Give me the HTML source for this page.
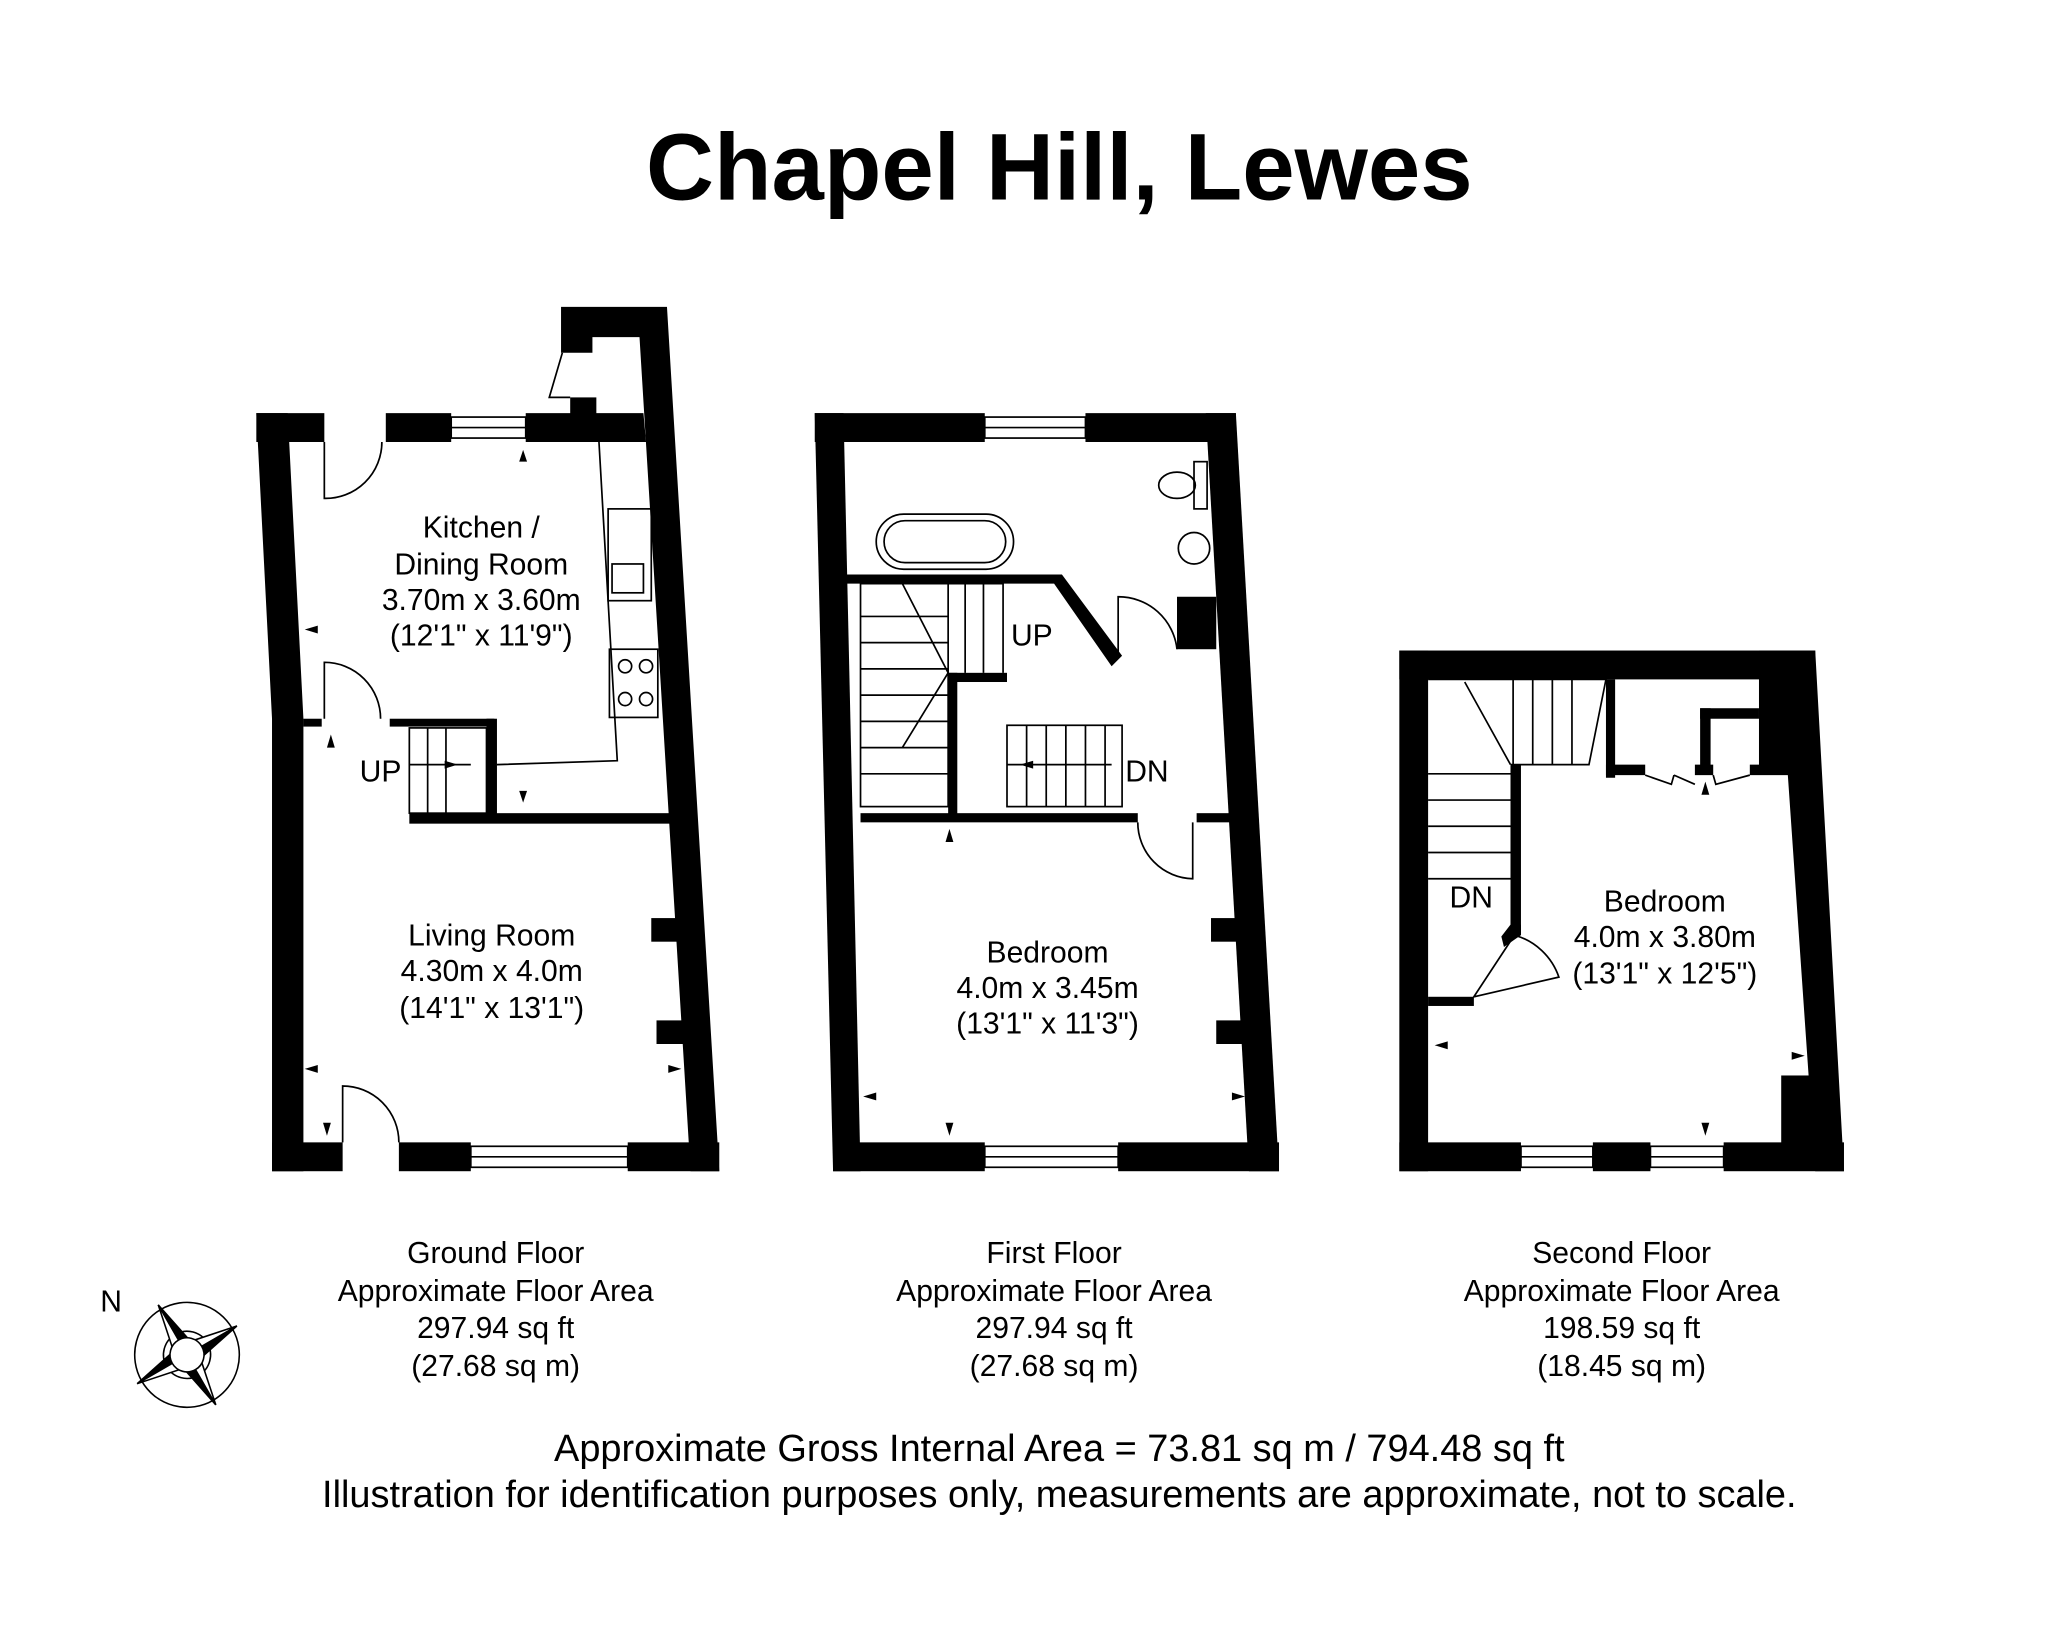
<!DOCTYPE html>
<html><head><meta charset="utf-8"><style>
html,body{margin:0;padding:0;background:#fff}
svg{display:block}
text{font-family:"Liberation Sans",Arial,sans-serif;fill:#000}
</style></head><body>
<svg width="2048" height="1646" viewBox="0 0 1566 1255" preserveAspectRatio="none" xmlns="http://www.w3.org/2000/svg">
<rect width="1600" height="1300" fill="#fff"/>
<text x="810" y="152" font-size="72" font-weight="bold" text-anchor="middle">Chapel Hill, Lewes</text>

<g fill="#000" stroke="none">
<polygon points="196,315 220,315 232,548 232,893 208,893 208,548"/>
<rect x="196" y="315" width="52" height="22"/>
<rect x="295" y="315" width="50" height="22"/>
<rect x="402" y="315" width="53" height="22"/>
<polygon points="429,234 510,234 550,893 528,893 489,257 453,257 453,269 429,269"/>
<rect x="436" y="303" width="20" height="34"/>
<polygon points="455,315 492,315 494,337 455,337"/>
<rect x="208" y="871" width="54" height="22"/>
<rect x="305" y="871" width="55" height="22"/>
<rect x="480" y="871" width="70" height="22"/>
<rect x="313" y="620" width="202" height="8"/>
<rect x="372" y="548" width="8" height="76"/>
<rect x="298" y="548" width="80" height="6"/>
<rect x="232" y="548" width="14" height="6"/>
<rect x="498" y="700" width="22" height="18"/>
<rect x="502" y="778" width="22" height="18"/>
<polygon points="623,315 645,315 658,893 637,893"/>
<rect x="623" y="315" width="130" height="22"/>
<rect x="830" y="315" width="115" height="22"/>
<polygon points="922,315 945,315 978,893 955,893"/>
<rect x="637" y="871" width="116" height="22"/>
<rect x="855" y="871" width="123" height="22"/>
<polygon points="645,438 812,438 858,500 850,508 806,445 645,445"/>
<rect x="658" y="620" width="212" height="7"/>
<rect x="915" y="620" width="28" height="7"/>
<rect x="725" y="513" width="7" height="110"/>
<rect x="725" y="513" width="45" height="7"/>
<rect x="900" y="455" width="30" height="40"/>
<rect x="926" y="700" width="20" height="18"/>
<rect x="930" y="778" width="22" height="18"/>
<rect x="1070" y="496" width="318" height="22"/>
<rect x="1070" y="496" width="22" height="397"/>
<polygon points="1345,496 1388,496 1410,893 1388,893 1367,590 1345,590"/>
<rect x="1070" y="871" width="93" height="22"/>
<rect x="1218" y="871" width="44" height="22"/>
<rect x="1318" y="871" width="92" height="22"/>
<rect x="1362" y="820" width="30" height="55"/>
<rect x="1228" y="518" width="7" height="75"/>
<rect x="1300" y="540" width="45" height="8"/>
<rect x="1300" y="540" width="8" height="50"/>
<rect x="1155" y="583" width="8" height="130"/>
<polygon points="1155,705 1163,705 1163,713 1150,722 1148,714"/>
<rect x="1092" y="760" width="35" height="7"/>
<rect x="1228" y="583" width="30" height="8"/>
<rect x="1296" y="583" width="14" height="8"/>
<rect x="1338" y="583" width="30" height="8"/>
</g>

<g fill="none" stroke="#000" stroke-width="1.3">
<polyline points="430,269 420,303 436,303"/>
<rect x="345" y="318" width="57" height="16"/><line x1="345" y1="326" x2="402" y2="326"/>
<rect x="360" y="874" width="120" height="16"/><line x1="360" y1="882" x2="480" y2="882"/>
<rect x="753" y="318" width="77" height="16"/><line x1="753" y1="326" x2="830" y2="326"/>
<rect x="753" y="874" width="102" height="16"/><line x1="753" y1="882" x2="855" y2="882"/>
<rect x="1163" y="874" width="55" height="16"/><line x1="1163" y1="882" x2="1218" y2="882"/>
<rect x="1262" y="874" width="56" height="16"/><line x1="1262" y1="882" x2="1318" y2="882"/>
<path d="M248,337 L248,380 A43,43 0 0 0 292,337"/>
<path d="M248,548 L248,505 A43,43 0 0 1 291,548"/>
<path d="M262,871 L262,828 A43,43 0 0 1 305,871"/>
<path d="M912,627 L912,670 A43,43 0 0 1 870,627"/>
<path d="M855,500 L855,455 A45,45 0 0 1 900,495"/>
<path d="M1127,760 L1158,713 A50,50 0 0 1 1192,745 Z"/>
<path d="M1258,591 L1278,598 L1280,591 M1280,591 L1296,598 M1310,591 L1312,598 L1338,591"/>
<polyline points="458,337 472,580 380,583"/>
<rect x="465" y="388" width="33" height="70"/>
<rect x="468" y="430" width="24" height="22"/>
<rect x="466" y="495" width="37" height="52"/>
<circle cx="478" cy="508" r="5"/><circle cx="494" cy="508" r="5"/>
<circle cx="478" cy="533" r="5"/><circle cx="494" cy="533" r="5"/>
<rect x="313" y="555" width="59" height="65"/>
<line x1="327" y1="555" x2="327" y2="620"/><line x1="341" y1="555" x2="341" y2="620"/>
<line x1="313" y1="583" x2="360" y2="583"/>
<rect x="658" y="445" width="67" height="170"/>
<path d="M725,445 L767,445 L767,513 M738,445 L738,513 M752,445 L752,513 M658,470 L725,470 M658,490 L725,490 M658,510 L725,510 M658,530 L725,530 M658,550 L725,550 M658,570 L725,570 M658,590 L725,590 M690,445 L725,513 L690,570"/>
<rect x="770" y="553" width="88" height="62"/>
<path d="M785,553 L785,615 M800,553 L800,615 M815,553 L815,615 M830,553 L830,615 M845,553 L845,615 M770,583 L850,583"/>
<path d="M1092,518 L1228,518 L1215,583 L1155,583 M1157,518 L1157,583 M1172,518 L1172,583 M1187,518 L1187,583 M1202,518 L1202,583 M1092,590 L1155,590 M1092,610 L1155,610 M1092,630 L1155,630 M1092,650 L1155,650 M1092,670 L1155,670 M1120,520 L1155,583"/>
<rect x="670" y="392" width="105" height="42" rx="21"/>
<rect x="676" y="397" width="93" height="32" rx="16"/>
<ellipse cx="900" cy="370" rx="14" ry="10"/><rect x="913" y="352" width="10" height="36"/>
<ellipse cx="913" cy="418" rx="12" ry="12"/>
</g>

<g fill="#000">
<polygon points="400,343 397,352 403,352"/><polygon points="400,612 397,603 403,603"/>
<polygon points="233,480 243,477 243,483"/><polygon points="233,815 243,812 243,818"/>
<polygon points="253,560 250,570 256,570"/><polygon points="250,866 247,856 253,856"/>
<polygon points="521,815 511,812 511,818"/><polygon points="350,583 340,580 340,586"/>
<polygon points="726,866 723,856 729,856"/><polygon points="726,632 723,642 729,642"/>
<polygon points="660,836 670,833 670,839"/><polygon points="952,836 942,833 942,839"/>
<polygon points="780,583 790,580 790,586"/>
<polygon points="1097,797 1107,794 1107,800"/><polygon points="1380,805 1370,802 1370,808"/>
<polygon points="1304,866 1301,856 1307,856"/><polygon points="1304,596 1301,606 1307,606"/>
</g>

<g font-size="23" text-anchor="middle">
<text x="368" y="410">Kitchen /</text>
<text x="368" y="438">Dining Room</text>
<text x="368" y="465">3.70m x 3.60m</text>
<text x="368" y="492">(12'1" x 11'9")</text>
<text x="291" y="596">UP</text>
<text x="376" y="721">Living Room</text>
<text x="376" y="748">4.30m x 4.0m</text>
<text x="376" y="776">(14'1" x 13'1")</text>
<text x="789" y="492">UP</text>
<text x="877" y="596">DN</text>
<text x="801" y="734">Bedroom</text>
<text x="801" y="761">4.0m x 3.45m</text>
<text x="801" y="788">(13'1" x 11'3")</text>
<text x="1125" y="692">DN</text>
<text x="1273" y="695">Bedroom</text>
<text x="1273" y="722">4.0m x 3.80m</text>
<text x="1273" y="750">(13'1" x 12'5")</text>
<text x="379" y="963">Ground Floor</text>
<text x="379" y="992">Approximate Floor Area</text>
<text x="379" y="1020">297.94 sq ft</text>
<text x="379" y="1049">(27.68 sq m)</text>
<text x="806" y="963">First Floor</text>
<text x="806" y="992">Approximate Floor Area</text>
<text x="806" y="1020">297.94 sq ft</text>
<text x="806" y="1049">(27.68 sq m)</text>
<text x="1240" y="963">Second Floor</text>
<text x="1240" y="992">Approximate Floor Area</text>
<text x="1240" y="1020">198.59 sq ft</text>
<text x="1240" y="1049">(18.45 sq m)</text>
<text x="810" y="1114" font-size="29">Approximate Gross Internal Area = 73.81 sq m / 794.48 sq ft</text>
<text x="810" y="1149" font-size="29">Illustration for identification purposes only, measurements are approximate, not to scale.</text>
<text x="85" y="1000">N</text>
</g>

<g transform="translate(143,1033) rotate(-30)" stroke="#000" stroke-width="1.2">
<circle r="40" fill="none"/><circle r="18" fill="#fff"/>
<polygon points="0,-44 7,-10 0,0" fill="#000"/><polygon points="0,-44 -7,-10 0,0" fill="#fff"/>
<polygon points="0,44 -7,10 0,0" fill="#000"/><polygon points="0,44 7,10 0,0" fill="#fff"/>
<polygon points="44,0 10,7 0,0" fill="#000"/><polygon points="44,0 10,-7 0,0" fill="#fff"/>
<polygon points="-44,0 -10,-7 0,0" fill="#000"/><polygon points="-44,0 -10,7 0,0" fill="#fff"/>
<circle r="13" fill="#fff"/>
</g>
</svg>
</body></html>
